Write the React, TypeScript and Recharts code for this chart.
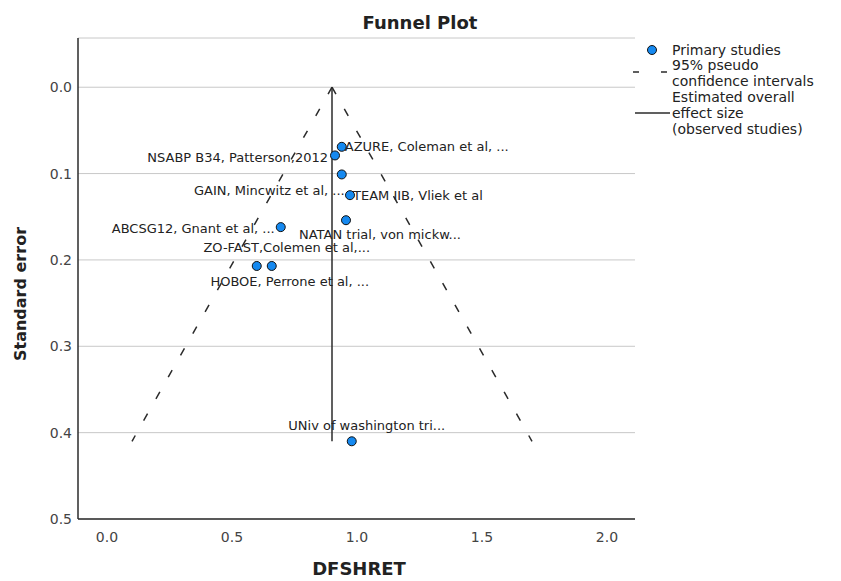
import { ScatterChart, Scatter, XAxis, YAxis, CartesianGrid } from "recharts";

// study names, effect (DFSHRET) and standard error
const studies = [
  "NSABP B34, Patterson,2012",
  "AZURE, Coleman et al, ...",
  "GAIN, Mincwitz et al, ...",
  "TEAM IIB, Vliek et al",
  "NATAN trial, von mickw...",
  "ABCSG12, Gnant et al, ...",
  "ZO-FAST,Colemen et al,...",
  "HOBOE, Perrone et al, ...",
  "UNiv of washington tri...",
];
const effect = [0.912, 0.939, 0.939, 0.972, 0.956, 0.695, 0.599, 0.659, 0.979];
const stdErr = [0.079, 0.069, 0.101, 0.125, 0.154, 0.162, 0.207, 0.207, 0.41];

// funnel (95% pseudo CI) and overall effect line
const funnelLeftX = [0.9, 0.1];
const funnelRightX = [0.9, 1.7];
const funnelSE = [0, 0.41];
const overallX = [0.9, 0.9];

const xTicks = [0, 0.5, 1, 1.5, 2];
const yTicks = [0, 0.1, 0.2, 0.3, 0.4, 0.5];

// where each point label sits relative to its marker
const labelLayout = [
  { dx: -7, dy: 2, anchor: "end" },
  { dx: 3, dy: 0, anchor: "start" },
  { dx: 3, dy: 16, anchor: "end" },
  { dx: 3, dy: 0, anchor: "start" },
  { dx: 34, dy: 14, anchor: "middle" },
  { dx: -6, dy: 1, anchor: "end" },
  { dx: 30, dy: -18, anchor: "middle" },
  { dx: 18, dy: 16, anchor: "middle" },
  { dx: 15, dy: -16, anchor: "middle" },
];

const legendLines = [
  { text: "Primary studies", y: 50 },
  { text: "95% pseudo", y: 65 },
  { text: "confidence intervals", y: 81 },
  { text: "Estimated overall", y: 97 },
  { text: "effect size", y: 113 },
  { text: "(observed studies)", y: 129 },
];

const points = studies.map((name, i) => ({ name, x: effect[i], y: stdErr[i] }));
const leftLine = funnelSE.map((y, i) => ({ x: funnelLeftX[i], y }));
const rightLine = funnelSE.map((y, i) => ({ x: funnelRightX[i], y }));
const midLine = funnelSE.map((y, i) => ({ x: overallX[i], y }));

const FONT = "'DejaVu Sans', Verdana, sans-serif";
const DOT = "#1589f0";
const INK = "#2b2b2b";

const StudyDot = (props: any) => {
  const { cx, cy, payload } = props;
  const i = props.index ?? points.findIndex((p) => p.name === payload?.name);
  const l = labelLayout[i] || { dx: 6, dy: 0, anchor: "start" };
  return (
    <g>
      <circle cx={cx} cy={cy} r={4.5} fill={DOT} stroke="#111" strokeWidth={1} />
      <text
        x={cx + l.dx}
        y={cy + l.dy}
        textAnchor={l.anchor}
        dominantBaseline="central"
        fontSize={13}
        fontFamily={FONT}
        fill="#222"
      >
        {payload?.name}
      </text>
    </g>
  );
};

const NoDot = () => <g />;

export default function App() {
  return (
    <div style={{ position: "absolute", left: 0, top: 0, width: 841, height: 581, background: "#fff" }}>
      <ScatterChart
        width={841}
        height={581}
        margin={{ top: 38, right: 206, bottom: 32, left: 0 }}
      >
        <CartesianGrid vertical={false} stroke="#c8c8c8" strokeWidth={1} />
        <XAxis
          type="number"
          dataKey="x"
          domain={[-0.116, 2.112]}
          ticks={xTicks}
          allowDataOverflow
          height={30}
          tickLine={false}
          tickSize={8}
          tickMargin={5}
          axisLine={{ stroke: INK, strokeWidth: 1.5 }}
          tickFormatter={(v: number) => v.toFixed(1)}
          tick={{ fontSize: 14, fontFamily: FONT, fill: "#444" }}
        />
        <YAxis
          type="number"
          dataKey="y"
          reversed
          domain={[-0.057, 0.5]}
          ticks={yTicks}
          allowDataOverflow
          width={78}
          tickLine={false}
          tickSize={4}
          tickMargin={2}
          axisLine={{ stroke: INK, strokeWidth: 1.5 }}
          tickFormatter={(v: number) => v.toFixed(1)}
          tick={{ fontSize: 14, fontFamily: FONT, fill: "#444" }}
        />
        <Scatter
          data={leftLine}
          line={{ stroke: INK, strokeWidth: 1.5, strokeDasharray: "8 17" }}
          shape={NoDot}
          isAnimationActive={false}
        />
        <Scatter
          data={rightLine}
          line={{ stroke: INK, strokeWidth: 1.5, strokeDasharray: "8 17" }}
          shape={NoDot}
          isAnimationActive={false}
        />
        <Scatter
          data={midLine}
          line={{ stroke: INK, strokeWidth: 1.5 }}
          shape={NoDot}
          isAnimationActive={false}
        />
        <Scatter data={points} shape={StudyDot} isAnimationActive={false} />
      </ScatterChart>

      <svg
        width={841}
        height={581}
        style={{ position: "absolute", left: 0, top: 0, pointerEvents: "none" }}
        fontFamily={FONT}
      >
        <text x={420} y={22} textAnchor="middle" dominantBaseline="central" fontSize={18} fontWeight="bold" fill="#222">
          Funnel Plot
        </text>
        <text
          x={20}
          y={294}
          textAnchor="middle"
          dominantBaseline="central"
          fontSize={16}
          fontWeight="bold"
          fill="#222"
          transform="rotate(-90 20 294)"
        >
          Standard error
        </text>
        <text x={359} y={568} textAnchor="middle" dominantBaseline="central" fontSize={18} fontWeight="bold" fill="#222">
          DFSHRET
        </text>

        {/* legend */}
        <circle cx={652} cy={50} r={4.5} fill={DOT} stroke="#111" strokeWidth={1} />
        <line x1={633} y1={72} x2={668} y2={72} stroke={INK} strokeWidth={1.5} strokeDasharray="6 22" />
        <line x1={635} y1={113} x2={670} y2={113} stroke={INK} strokeWidth={1.5} />
        {legendLines.map((l) => (
          <text key={l.text} x={672} y={l.y} dominantBaseline="central" fontSize={14} fill="#222">
            {l.text}
          </text>
        ))}
      </svg>
    </div>
  );
}
